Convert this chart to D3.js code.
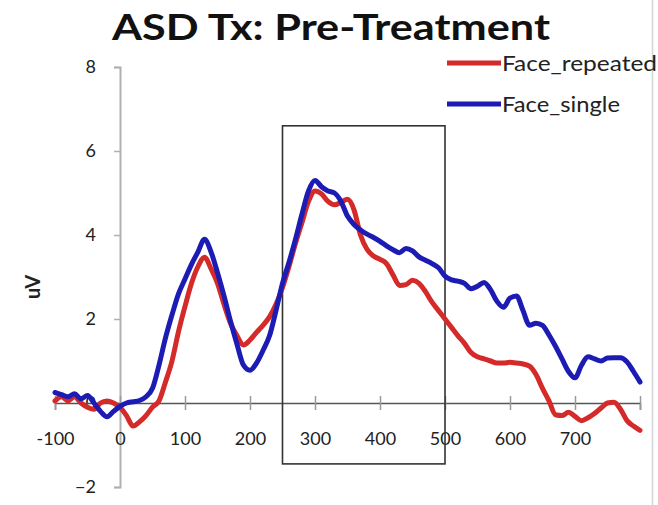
<!DOCTYPE html>
<html>
<head>
<meta charset="utf-8">
<script src="https://cdn.jsdelivr.net/npm/d3@7"></script>
<style>
  html, body { margin: 0; padding: 0; background: #fff; }
  svg { display: block; }
  text { font-family: Lato, "Open Sans", sans-serif; fill: #222; }
</style>
</head>
<body>
<svg id="chart" width="658" height="505"></svg>
<script>
// ---- data ----
const times = d3.range(-100, 801, 10);
const faceRepeated = [
  0.05, 0.15, 0.05, 0.15, 0.0, -0.1, -0.15, 0.0, 0.05, 0.0,
  -0.1, -0.3, -0.55, -0.45, -0.3, -0.1, 0.05, 0.5, 1.0, 1.7,
  2.3, 2.85, 3.25, 3.47, 3.2, 2.85, 2.35, 1.9, 1.6, 1.38,
  1.5, 1.68, 1.85, 2.05, 2.35, 2.75, 3.25, 3.8, 4.3, 4.8,
  5.05, 4.98, 4.8, 4.72, 4.78, 4.85, 4.6, 4.0, 3.66, 3.5,
  3.42, 3.32, 3.05, 2.8, 2.82, 2.92, 2.85, 2.65, 2.4, 2.2,
  2.0, 1.8, 1.6, 1.42, 1.2, 1.1, 1.05, 1.0, 0.95, 0.95,
  0.97, 0.95, 0.93, 0.88, 0.68, 0.35, 0.05, -0.28, -0.3, -0.22,
  -0.32, -0.42, -0.35, -0.25, -0.12, 0.0, 0.02, -0.15, -0.42, -0.55,
  -0.65
];
const faceSingle = [
  0.25, 0.2, 0.15, 0.22, 0.1, 0.18, 0.0, -0.2, -0.33, -0.2,
  -0.08, 0.0, 0.03, 0.06, 0.15, 0.35, 0.9, 1.55, 2.1, 2.6,
  2.95, 3.3, 3.6, 3.9, 3.6, 3.1, 2.55, 1.95, 1.4, 0.9,
  0.78, 0.95, 1.25, 1.6, 2.2, 2.85, 3.35, 3.9, 4.5, 5.05,
  5.3, 5.15, 5.05, 5.0, 4.8, 4.45, 4.25, 4.12, 4.02, 3.94,
  3.85, 3.74, 3.65, 3.58, 3.68, 3.62, 3.48, 3.4, 3.32, 3.22,
  3.02, 2.93, 2.9, 2.85, 2.72, 2.78, 2.87, 2.7, 2.42, 2.28,
  2.5, 2.55, 2.2, 1.85, 1.9, 1.85, 1.62, 1.35, 1.05, 0.75,
  0.6, 0.9, 1.1, 1.05, 1.0, 1.07, 1.08, 1.08, 0.98, 0.75,
  0.5
];
const seriesNames = ["Face_repeated", "Face_single"];
const seriesColors = ["#d42a2a", "#1c1cb4"];
const xTicks = [-100, 0, 100, 200, 300, 400, 500, 600, 700, 800];
const xTickLabels = ["-100", "0", "100", "200", "300", "400", "500", "600", "700", ""];
const yTicks = [-2, 0, 2, 4, 6, 8];
const windowStart = 250, windowEnd = 500;
const windowTop = 6.6, windowBottom = -1.45;
const titleText = "ASD Tx: Pre-Treatment";
const yLabel = "uV";

// ---- chart ----
const svg = d3.select("#chart");
const x = d3.scaleLinear().domain([-100, 800]).range([55, 640]);
const y = d3.scaleLinear().domain([-2, 8]).range([487, 67]);

// right border
svg.append("line").attr("x1", 652.5).attr("x2", 652.5).attr("y1", 0).attr("y2", 505)
  .attr("stroke", "#d4d4d4").attr("stroke-width", 1.5);

// title
svg.append("text").attr("x", 112).attr("y", 40)
  .attr("textLength", 438).attr("lengthAdjust", "spacingAndGlyphs")
  .style("font-size", "37px").style("font-weight", "bold").style("fill", "#111")
  .text(titleText);

// y axis
const yAxis = svg.append("g").attr("transform", `translate(${x(0)},0)`)
  .call(d3.axisLeft(y).tickValues(yTicks).tickSize(6).tickPadding(18).tickFormat(d3.format("d")));
yAxis.select(".domain").attr("stroke", "#b0b0b0").attr("stroke-width", 2);
yAxis.selectAll(".tick line").attr("stroke", "#b0b0b0").attr("stroke-width", 1.5);
yAxis.selectAll(".tick text").style("font-size", "18px").style("fill", "#222")
  .style("font-family", "Lato, sans-serif");

// y label
svg.append("text").attr("transform", "translate(40,287) rotate(-90)")
  .attr("text-anchor", "middle").style("font-size", "20px").style("font-weight", "bold")
  .text(yLabel);

// x axis
const xAxis = svg.append("g").attr("transform", `translate(0,${y(0)})`)
  .call(d3.axisBottom(x).tickValues(xTicks).tickSize(7).tickPadding(22)
    .tickFormat((d, i) => xTickLabels[i]));
xAxis.select(".domain").attr("stroke", "#555").attr("stroke-width", 1.5);
xAxis.selectAll(".tick line").attr("y1", -7).attr("stroke", "#999").attr("stroke-width", 1.5);
xAxis.selectAll(".tick text").style("font-size", "18px").style("fill", "#222")
  .style("font-family", "Lato, sans-serif");

// analysis window box
svg.append("rect")
  .attr("x", x(windowStart)).attr("y", y(windowTop))
  .attr("width", x(windowEnd) - x(windowStart)).attr("height", y(windowBottom) - y(windowTop))
  .attr("fill", "none").attr("stroke", "#333").attr("stroke-width", 1.6);

// lines
const line = d3.line().x((d, i) => x(times[i])).y(d => y(d)).curve(d3.curveMonotoneX);
[faceRepeated, faceSingle].forEach((vals, k) => {
  svg.append("path").datum(vals).attr("d", line)
    .attr("fill", "none").attr("stroke", seriesColors[k]).attr("stroke-width", 5)
    .attr("stroke-linejoin", "round").attr("stroke-linecap", "round");
});

// legend
const legendY = [63, 104];
const legendLen = [155, 118];
seriesNames.forEach((name, k) => {
  svg.append("line").attr("x1", 447).attr("x2", 501).attr("y1", legendY[k]).attr("y2", legendY[k])
    .attr("stroke", seriesColors[k]).attr("stroke-width", 5);
  svg.append("text").attr("x", 502).attr("y", legendY[k] + 8)
    .attr("textLength", legendLen[k]).attr("lengthAdjust", "spacingAndGlyphs")
    .style("font-size", "22px").text(name);
});
</script>
</body>
</html>
